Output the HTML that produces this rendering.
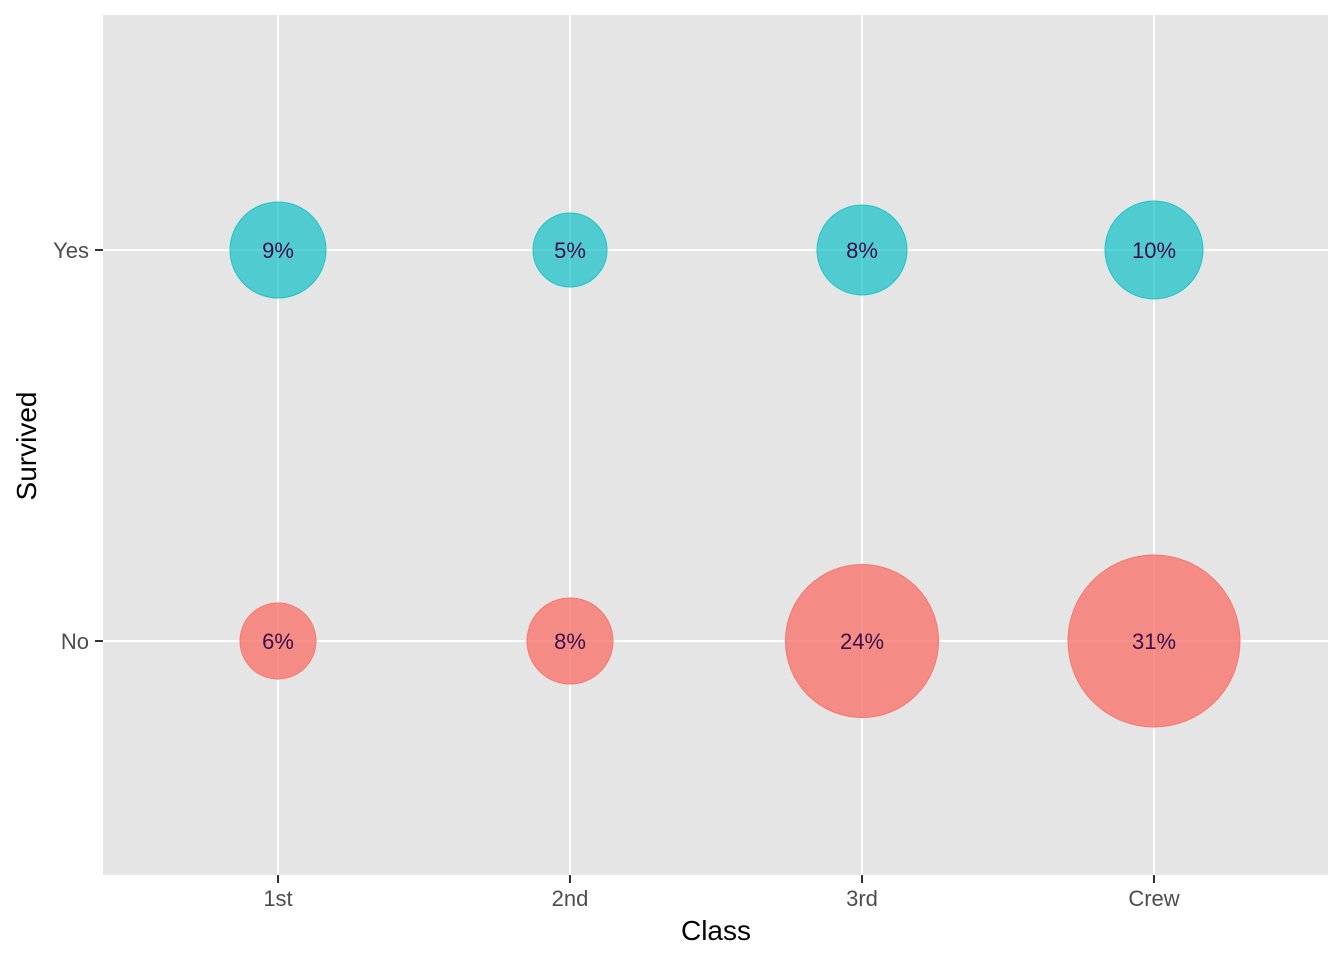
<!DOCTYPE html>
<html><head><meta charset="utf-8"><style>
html,body{margin:0;padding:0;background:#fff;}
svg{display:block;font-family:"Liberation Sans",Arial,sans-serif;}
</style></head><body>
<svg width="1344" height="960" viewBox="0 0 1344 960" xmlns="http://www.w3.org/2000/svg">
<rect x="0" y="0" width="1344" height="960" fill="#fff"/>
<rect x="103" y="15" width="1225" height="860" fill="#e5e5e5"/>
<g stroke="#fff" stroke-width="2">
<line x1="278" y1="15" x2="278" y2="875"/>
<line x1="570" y1="15" x2="570" y2="875"/>
<line x1="862" y1="15" x2="862" y2="875"/>
<line x1="1154" y1="15" x2="1154" y2="875"/>
<line x1="103" y1="250" x2="1328" y2="250"/>
<line x1="103" y1="641" x2="1328" y2="641"/>
</g>
<g fill="#00BFC4" fill-opacity="0.65" stroke="#00BFC4" stroke-opacity="0.8" stroke-width="1">
<circle cx="278" cy="250" r="48"/>
<circle cx="570" cy="250" r="37"/>
<circle cx="862" cy="250" r="45"/>
<circle cx="1154" cy="250" r="49"/>
</g>
<g fill="#F8766D" fill-opacity="0.8" stroke="#F8766D" stroke-width="1">
<circle cx="278" cy="641" r="38"/>
<circle cx="570" cy="641" r="43"/>
<circle cx="862" cy="641" r="76.5"/>
<circle cx="1154" cy="641" r="86"/>
</g>
<g font-size="22" fill="#3b0d4a" text-anchor="middle">
<text x="278" y="258">9%</text>
<text x="570" y="258">5%</text>
<text x="862" y="258">8%</text>
<text x="1154" y="258">10%</text>
<text x="278" y="649">6%</text>
<text x="570" y="649">8%</text>
<text x="862" y="649">24%</text>
<text x="1154" y="649">31%</text>
</g>
<g stroke="#333" stroke-width="2">
<line x1="95" y1="250" x2="103" y2="250"/>
<line x1="95" y1="641" x2="103" y2="641"/>
<line x1="278" y1="875" x2="278" y2="883"/>
<line x1="570" y1="875" x2="570" y2="883"/>
<line x1="862" y1="875" x2="862" y2="883"/>
<line x1="1154" y1="875" x2="1154" y2="883"/>
</g>
<g font-size="22" fill="#4d4d4d">
<text x="89" y="258" text-anchor="end">Yes</text>
<text x="89" y="649" text-anchor="end">No</text>
<g text-anchor="middle">
<text x="278" y="906">1st</text>
<text x="570" y="906">2nd</text>
<text x="862" y="906">3rd</text>
<text x="1154" y="906">Crew</text>
</g>
</g>
<text x="716" y="940" font-size="28" text-anchor="middle" fill="#000">Class</text>
<text x="0" y="0" font-size="28" text-anchor="middle" fill="#000" transform="translate(36 446) rotate(-90)">Survived</text>
</svg>
</body></html>
